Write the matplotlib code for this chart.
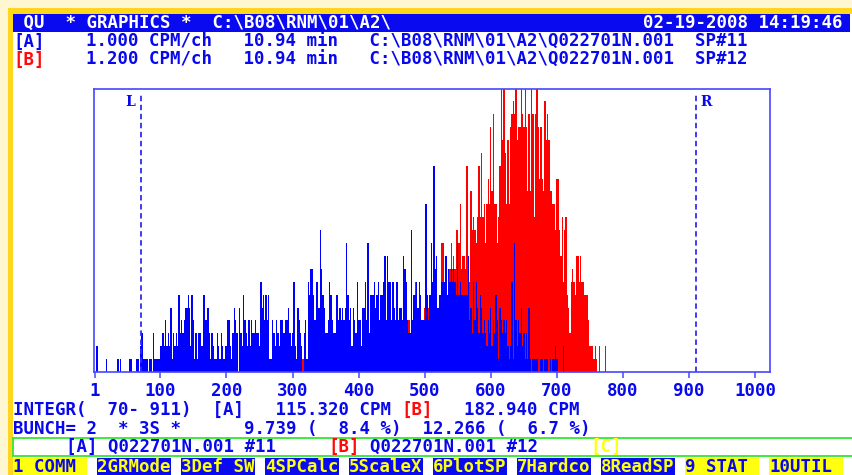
import numpy as np
import matplotlib.pyplot as plt
import matplotlib.patches as mpatches
import matplotlib.transforms as mtransforms

plt.rcParams['font.family'] = ['DejaVu Sans Mono']

# spectrum [A] (blue), counts per bunch of 2 channels, first bin = channels 1-2
blue_counts = [
    0, 2, 0, 0, 0, 0, 0, 0, 1, 0, 0, 0, 0, 0, 0, 0, 0, 1, 0, 1,
    0, 0, 0, 0, 0, 0, 1, 1, 0, 0, 0, 1, 1, 0, 2, 3, 1, 1, 1, 1,
    0, 1, 1, 0, 3, 1, 1, 1, 1, 2, 2, 3, 2, 4, 2, 3, 2, 5, 1, 3,
    2, 3, 2, 6, 3, 4,
    3, 4, 5, 5, 6, 5, 2, 6, 4, 1, 3, 1, 3, 3, 2, 2, 6, 4, 4, 5,
    3, 1, 3, 2, 1, 1, 3, 2, 1, 3, 2, 1, 2, 2, 4, 4, 2, 1, 3, 5,
    4, 3, 0, 5, 3, 2, 6, 4, 3, 2, 4, 2, 4, 3, 3, 4, 3, 3, 2, 7,
    5, 6, 4, 6, 4, 6, 1,
    1, 4, 3, 2, 4, 3, 2, 4, 4, 3, 3, 4, 4, 5, 3, 2, 3, 7, 2, 1,
    5, 4, 3, 2, 0, 3, 4, 1, 7, 6, 8, 8, 6, 4, 7, 7, 5, 11, 8, 6,
    5, 3, 3, 4, 7, 6, 4, 3, 3, 6, 6, 4, 5, 4, 5, 4, 5, 10, 6, 4,
    5, 2, 5, 4, 3, 7, 4,
    4, 2, 5, 5, 7, 4, 10, 3, 6, 6, 6, 7, 5, 6, 7, 4, 6, 6, 7, 9,
    4, 9, 7, 7, 4, 7, 5, 4, 7, 4, 5, 5, 4, 9, 8, 7, 4, 3, 3, 11,
    4, 6, 6, 7, 5, 7, 6, 4, 4, 4, 13, 6, 4, 6, 10, 7, 16, 8, 9, 5,
    6, 6, 7, 7, 7, 9,
    6, 8, 7, 8, 7, 8, 7, 6, 10, 6, 7, 6, 6, 6, 6, 6, 9, 4, 5, 3,
    7, 4, 7, 5, 3, 6, 5, 3, 4, 3, 2, 4, 3, 5, 2, 4, 3, 6, 4, 1,
    5, 4, 3, 4, 3, 4, 2, 1, 2, 7, 1, 10, 4, 2, 4, 3, 5, 2, 3, 1,
    3, 1, 5, 1, 0, 1, 1,
    1, 1, 0, 0, 1, 1, 0, 1, 1, 1, 0, 1, 0, 1, 1, 2, 1, 0, 0, 0,
    0, 2, 0,
]
blue_first_bin = 0

# spectrum [B] (red)
red_counts = [
    0, 0, 0, 0, 0, 0, 0, 1, 0, 0, 0, 0, 1, 0, 0, 0, 0, 0, 1, 0,
    0, 1, 0, 0, 0, 1, 0, 0, 0, 1, 0, 0, 1, 0, 0, 1, 0, 0, 0, 1,
    0, 1, 0, 0, 1, 0, 0, 1, 0, 0, 1, 0, 1, 0, 1, 0, 1, 0, 0, 1,
    1, 0, 1, 1, 0, 1, 0, 2, 1, 0, 1, 2, 0, 1, 1, 2, 1, 0, 2, 1,
    2, 1, 1, 2, 1, 2,
    2, 4, 3, 2, 3, 3, 7, 4, 3, 4, 5, 4, 3, 5, 6, 4, 5, 6, 5, 6,
    5, 6, 7, 5, 4, 6, 10, 10, 7, 8,
    5, 7, 8, 10, 8, 9, 8, 11, 11, 10, 13, 8, 9, 9, 8, 16, 9, 7, 14, 11,
    12, 11, 10, 12, 16, 12, 17, 12, 13, 10, 13, 15, 13, 19, 14, 20, 13, 13, 10, 12,
    16, 22, 18, 22, 17, 13, 18, 13, 19, 20, 21, 20, 22, 18, 19, 19, 22, 20, 19, 22,
    19, 14, 20, 14, 22, 20, 12,
    20, 22, 19, 15, 19, 15, 14, 21, 18, 20, 18, 14, 14, 13, 13, 11, 15, 15, 11, 9,
    12, 7, 11, 12, 6, 5, 3, 7, 8, 7, 6, 9, 9, 7, 9, 7, 7, 6, 6, 6,
    4, 2, 2, 2, 1, 2, 1, 0, 2, 0, 0, 0, 0, 2,
]
red_first_bin = 150

bunch = 2
roi = (70, 911)
xtick_vals = [1, 100, 200, 300, 400, 500, 600, 700, 800, 900, 1000]

BLUE = '#0808EE'
RED = '#FF0A0A'
YEL = '#FFFF10'
FRAME = '#4646FF'
FS = 12.56
CW = 10.5   # one screen column in px
X0 = 13

fig = plt.figure(figsize=(8.52, 4.75), dpi=100)
bg = fig.add_axes([0, 0, 1, 1])
bg.set_xlim(0, 852)
bg.set_ylim(475, 0)
bg.axis('off')

# screen frame
bg.add_patch(mpatches.Rectangle((0, 0), 852, 475, color='#FFF6D2', lw=0))
bg.add_patch(mpatches.Rectangle((8, 8), 844, 467, color='#FFD51E', lw=0))
bg.add_patch(mpatches.Rectangle((13, 14), 839, 461, color='white', lw=0))
bg.add_patch(mpatches.Rectangle((13, 14), 837, 18, color='#0A0AF0', lw=0))


def put(col, base, s, color=BLUE):
    bg.text(X0 + col * CW, base, s, color=color, fontsize=FS,
            fontweight='bold', ha='left', va='baseline')


put(0, 28, ' QU  * GRAPHICS *  C:\\B08\\RNM\\01\\A2\\', 'white')
put(60, 28, '02-19-2008 14:19:46', 'white')
put(0, 47, '[A]')
put(7, 47, '1.000 CPM/ch   10.94 min   C:\\B08\\RNM\\01\\A2\\Q022701N.001  SP#11')
put(0, 65, '[B]', RED)
put(7, 65, '1.200 CPM/ch   10.94 min   C:\\B08\\RNM\\01\\A2\\Q022701N.001  SP#12')

put(0, 415, 'INTEGR(  70- 911)  [A]   115.320 CPM')
put(37, 415, '[B]', RED)
put(43, 415, '182.940 CPM')
put(0, 433.5, 'BUNCH= 2  * 3S *      9.739 (  8.4 %)  12.266 (  6.7 %)')

bg.add_patch(mpatches.Rectangle((13, 437.5), 845, 18.5, facecolor='white',
                                edgecolor='#30E830', lw=1.3))
put(5, 451.5, '[A] Q022701N.001 #11')
put(30, 451.5, '[B]', RED)
put(34, 451.5, 'Q022701N.001 #12')
put(55, 451.5, '[C]', YEL)

keys = ['1 COMM', '2GRMode', '3Def SW', '4SPCalc', '5ScaleX',
        '6PlotSP', '7Hardco', '8ReadSP', '9 STAT', '10UTIL']
for i, k in enumerate(keys):
    light = i in (0, 8, 9)
    bg.add_patch(mpatches.Rectangle((X0 + 8 * i * CW, 458), 7 * CW, 17,
                                    color=YEL if light else '#0A0AF0', lw=0))
    put(8 * i, 471.5, k, BLUE if light else YEL)

# spectrum window
ax = fig.add_axes([94 / 852, (475 - 372) / 475, 676 / 852, 283 / 475])
ax.set_facecolor('none')
ax.set_xlim(-0.5, 1022.5)
ax.set_ylim(0, 21.94)

r_edges = 1 + bunch * np.arange(red_first_bin, red_first_bin + len(red_counts) + 1)
b_edges = 1 + bunch * np.arange(blue_first_bin, blue_first_bin + len(blue_counts) + 1)
ax.stairs(red_counts, r_edges, fill=True, color='#FF0000', lw=0)
ax.stairs(blue_counts, b_edges, fill=True, color='#0000FF', lw=0)

for ch in roi:
    ax.plot([ch, ch], [0, 21.5], color='#2E2EF0', lw=1.3, linestyle=(0, (3, 2)))
tr = mtransforms.blended_transform_factory(ax.transData, ax.transAxes)
ax.text(roi[0], 0.94, 'L ', transform=tr, ha='right', va='baseline',
        family='DejaVu Serif', fontweight='bold', fontsize=10, color=BLUE)
ax.text(roi[1], 0.94, ' R', transform=tr, ha='left', va='baseline',
        family='DejaVu Serif', fontweight='bold', fontsize=10, color=BLUE)

for s in ax.spines.values():
    s.set_color(FRAME)
    s.set_linewidth(1.2)
ax.set_yticks([])
ax.set_xticks(xtick_vals, labels=[str(v) for v in xtick_vals])
ax.tick_params(axis='x', direction='out', length=4.5, width=1.1, color=FRAME,
               labelcolor=BLUE, labelsize=FS, pad=2.5)
for lab in ax.get_xticklabels():
    lab.set_fontweight('bold')

fig.savefig('out.png', dpi=100)
